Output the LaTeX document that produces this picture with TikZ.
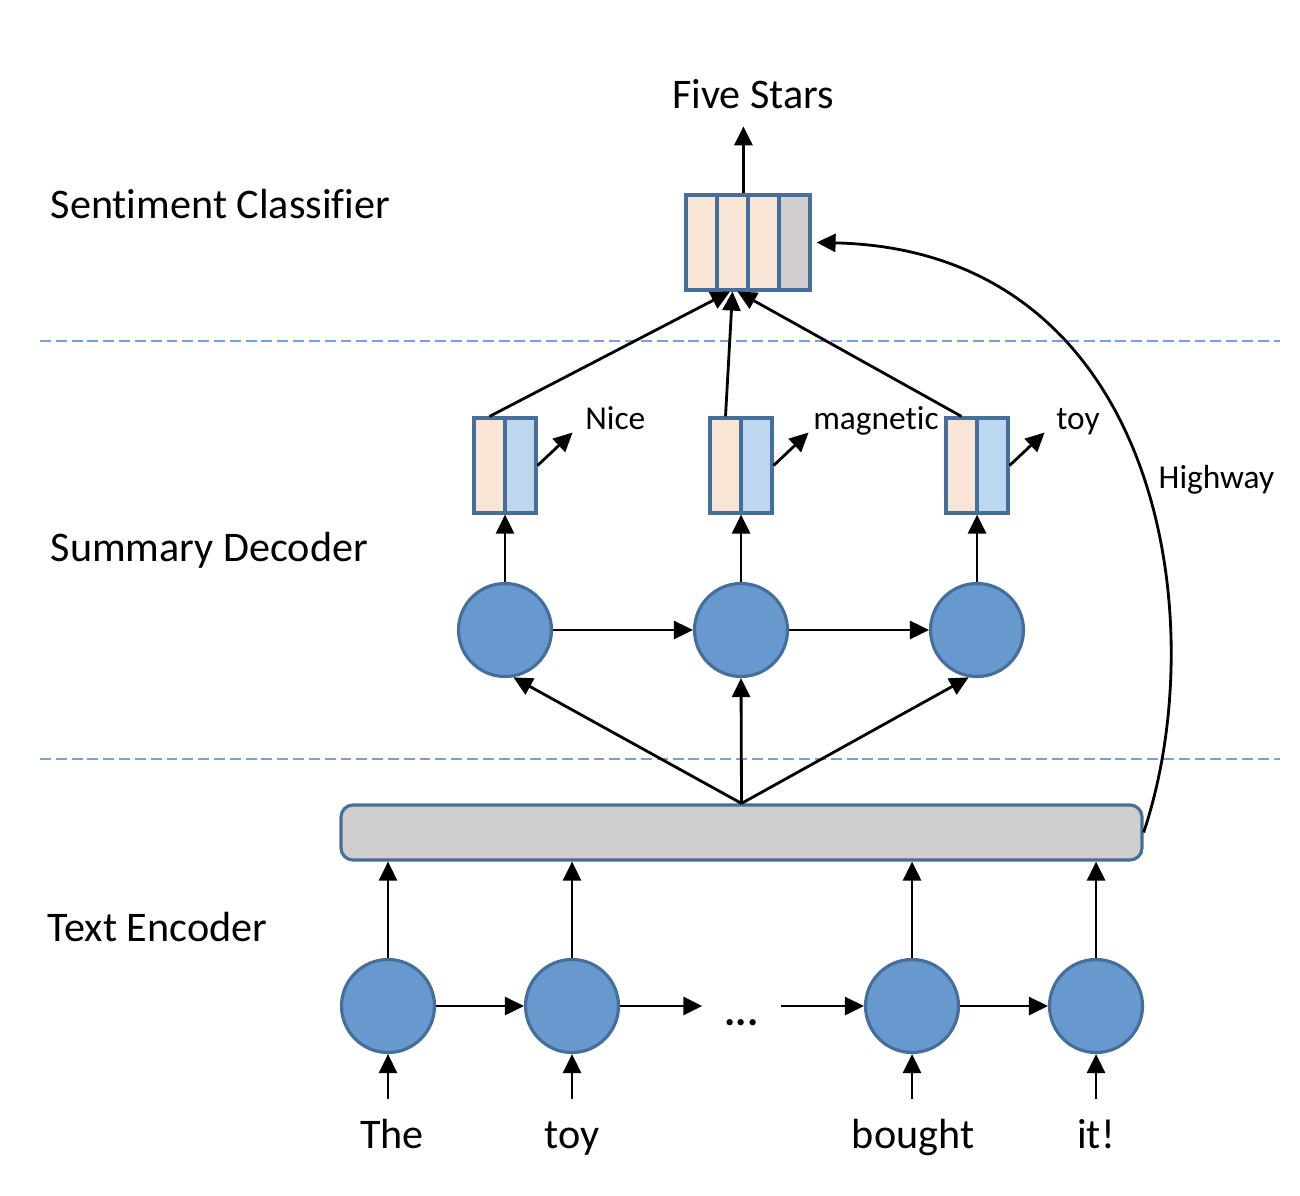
\documentclass[tikz,border=0pt]{standalone}
\usepackage{fontspec}
\setmainfont[Ligatures=NoCommon]{Carlito}
\usetikzlibrary{arrows.meta, positioning, calc}

\definecolor{nodeblue}{RGB}{103,153,207}
\definecolor{edgeblue}{RGB}{70,110,155}
\definecolor{peach}{RGB}{248,229,214}
\definecolor{paleblue}{RGB}{189,215,238}
\definecolor{cellgrey}{RGB}{208,206,206}
\definecolor{dashblue}{RGB}{120,160,215}

\begin{document}
\begin{tikzpicture}[
    cell/.style={rectangle, draw=edgeblue, line width=0.9pt, minimum width=0.31cm, minimum height=0.95cm, inner sep=0pt},
    rnn/.style={circle, draw=edgeblue, line width=0.9pt, fill=nodeblue, minimum size=0.93cm, inner sep=0pt},
    bigtext/.style={font=\fontsize{12}{14}\selectfont, inner sep=0pt},
    smalltext/.style={font=\fontsize{9.5}{12}\selectfont, inner sep=0pt},
    arrow/.style={-{Triangle[length=0.19cm, width=0.18cm]}, line width=0.8pt},
    layerline/.style={dash pattern=on 3.1pt off 1.4pt, color=dashblue, line width=0.5pt}
]
\useasboundingbox (0,0) rectangle (13,-11.96);

% layer labels
\node[bigtext, anchor=west] (lblcls) at (0.50,-2.04) {Sentiment Classifier};
\node[bigtext, anchor=west] (lbldec) at (0.50,-5.50) {Summary Decoder};
\node[bigtext, anchor=west] (lblenc) at (0.47,-9.27) {Text Encoder};

\draw[layerline] (0.40,-3.41) -- (12.80,-3.41);
\draw[layerline] (0.40,-7.59) -- (12.80,-7.59);

% sentiment classifier
\foreach \i/\x/\c in {1/7.015/peach, 2/7.325/peach, 3/7.635/peach, 4/7.945/cellgrey}
    \node[cell, fill=\c] (cls\i) at (\x,-2.425) {};
\node[bigtext] (stars) at (7.53,-0.94) {Five Stars};
\draw[arrow, shorten >=0.17cm] ([xshift=-0.03cm]cls3.north west) -- ([xshift=-0.03cm]cls3.north west |- stars.south);

% summary decoder
\foreach \i/\x/\w/\dx in {1/5.05/Nice/0.12, 2/7.41/magnetic/0.04, 3/9.77/toy/0.11} {
    \node[cell, fill=peach] (dp\i) at (\x-0.155,-4.655) {};
    \node[cell, fill=paleblue] (db\i) at (\x+0.155,-4.655) {};
    \node[rnn] (dec\i) at (\x,-6.30) {};
    \draw[arrow] (db\i.east) -- ++(0.35,0.33) coordinate (w\i);
    \node[smalltext, anchor=base west] (word\i) at ($(w\i)+(\dx,0.03)$) {\w};
    \draw[arrow] (dec\i.north) -- (dec\i.north |- dp\i.south);
}
\draw[arrow] (dec1) -- (dec2);
\draw[arrow] (dec2) -- (dec3);
\draw[arrow] (dp1.north) -- ([xshift=-0.025cm]cls2.south);
\draw[arrow] (dp2.north) -- (cls2.south);
\draw[arrow] (dp3.north) -- ([xshift=0.05cm]cls2.south);

% text encoder
\node[rectangle, rounded corners=0.12cm, draw=edgeblue, line width=0.9pt, fill=cellgrey,
      minimum width=8.01cm, minimum height=0.55cm] (bar) at (7.415,-8.325) {};
\draw[arrow] (bar.north) -- (dec1.-80);
\draw[arrow] (bar.north) -- (dec2.south);
\draw[arrow] (bar.north) -- (dec3.-100);

\foreach \i/\x/\w/\wx in {1/3.88/The/3.92, 2/5.72/toy/5.72, 3/9.12/bought/9.13, 4/10.96/it!/10.96} {
    \node[rnn] (enc\i) at (\x,-10.06) {};
    \node[bigtext, anchor=base] (tok\i) at (\wx,-11.48) {\w};
    \draw[arrow] ([yshift=-0.45cm]enc\i.south) -- (enc\i.south);
    \draw[arrow] (enc\i.north) -- (enc\i.north |- bar.south);
}
\node[bigtext, minimum width=0.77cm] (dots) at (7.415,-10.23) {\textbf{...}};
\draw[arrow] (enc1) -- (enc2);
\draw[arrow] (enc2.east) -- (enc2.east -| dots.west);
\draw[arrow] (enc3.west -| dots.east) -- (enc3.west);
\draw[arrow] (enc3) -- (enc4);

% highway
\draw[arrow] (bar.east) .. controls (12.15,-6.20) and (11.60,-2.50) .. ([xshift=0.05cm]cls4.east);
\node[smalltext, anchor=west] (hwy) at (11.58,-4.80) {Highway};
\end{tikzpicture}
\end{document}
